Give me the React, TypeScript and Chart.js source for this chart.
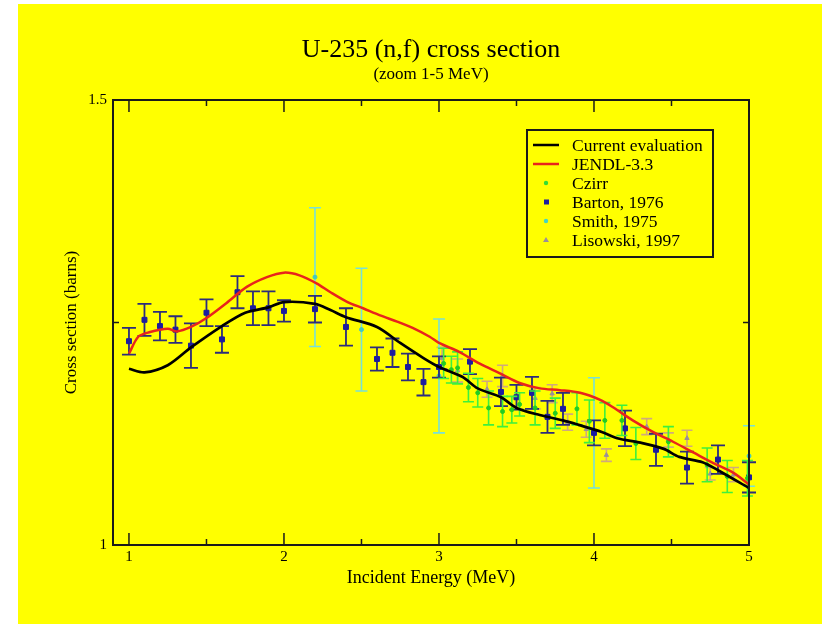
import React, { useEffect, useRef } from "react";
import { Chart, registerables } from "chart.js";

Chart.register(...registerables);

const FONT = "'Liberation Serif', 'Times New Roman', 'DejaVu Serif', serif";

// Current evaluation (black line)
const curX = [1.0, 1.1, 1.25, 1.4, 1.6, 1.75, 1.9, 2.0, 2.2, 2.3, 2.4, 2.6, 2.75, 2.9, 3.0, 3.15, 3.25, 3.4, 3.5, 3.65, 3.8, 3.9, 4.05, 4.15, 4.3, 4.45, 4.55, 4.7, 4.8, 5.0];
const curY = [1.198, 1.194, 1.202, 1.222, 1.246, 1.261, 1.267, 1.273, 1.271, 1.264, 1.256, 1.245, 1.227, 1.21, 1.2, 1.189, 1.176, 1.166, 1.154, 1.146, 1.14, 1.135, 1.127, 1.12, 1.115, 1.108, 1.099, 1.093, 1.084, 1.064];

// JENDL-3.3 (red line)
const jenX = [1.0, 1.06, 1.13, 1.25, 1.31, 1.4, 1.5, 1.63, 1.76, 1.89, 2.0, 2.1, 2.21, 2.3, 2.41, 2.51, 2.62, 2.73, 2.83, 2.94, 3.0, 3.13, 3.26, 3.39, 3.52, 3.65, 3.78, 3.91, 4.04, 4.12, 4.25, 4.38, 4.51, 4.64, 4.77, 4.9, 5.0];
const jenY = [1.215, 1.234, 1.239, 1.243, 1.24, 1.245, 1.255, 1.272, 1.29, 1.301, 1.306, 1.303, 1.294, 1.284, 1.273, 1.266, 1.258, 1.251, 1.244, 1.234, 1.227, 1.217, 1.204, 1.193, 1.182, 1.176, 1.174, 1.171, 1.163, 1.155, 1.14, 1.127, 1.116, 1.104, 1.092, 1.081, 1.068];

// Czirr (green)
const czX = [3.03, 3.08, 3.12, 3.19, 3.25, 3.32, 3.41, 3.47, 3.52, 3.62, 3.75, 3.89, 3.97, 4.07, 4.18, 4.27, 4.48, 4.73, 4.86, 4.99];
const czY = [1.204, 1.197, 1.199, 1.177, 1.171, 1.154, 1.15, 1.152, 1.158, 1.154, 1.148, 1.153, 1.139, 1.14, 1.14, 1.114, 1.116, 1.09, 1.077, 1.075];
const czE = [0.017, 0.015, 0.018, 0.016, 0.016, 0.019, 0.017, 0.015, 0.013, 0.019, 0.017, 0.018, 0.024, 0.02, 0.017, 0.018, 0.017, 0.019, 0.018, 0.02];

// Barton, 1976 (blue)
const baX = [1.0, 1.1, 1.2, 1.3, 1.4, 1.5, 1.6, 1.7, 1.8, 1.9, 2.0, 2.2, 2.4, 2.6, 2.7, 2.8, 2.9, 3.0, 3.2, 3.4, 3.5, 3.6, 3.7, 3.8, 4.0, 4.2, 4.4, 4.6, 4.8, 5.0];
const baY = [1.229, 1.253, 1.246, 1.242, 1.224, 1.261, 1.231, 1.284, 1.266, 1.266, 1.263, 1.265, 1.245, 1.209, 1.216, 1.2, 1.183, 1.2, 1.206, 1.172, 1.166, 1.171, 1.144, 1.153, 1.126, 1.131, 1.107, 1.087, 1.096, 1.076];
const baE = [0.015, 0.018, 0.016, 0.015, 0.025, 0.015, 0.015, 0.018, 0.019, 0.019, 0.012, 0.015, 0.021, 0.013, 0.016, 0.015, 0.015, 0.012, 0.014, 0.016, 0.014, 0.018, 0.018, 0.018, 0.014, 0.02, 0.018, 0.018, 0.016, 0.017];

// Smith, 1975 (cyan)
const smX = [2.2, 2.5, 3.0, 4.0, 5.0];
const smY = [1.301, 1.242, 1.19, 1.126, 1.1];
const smE = [0.078, 0.069, 0.064, 0.062, 0.034];

// Lisowski, 1997 (tan)
const liX = [3.02, 3.12, 3.31, 3.41, 3.62, 3.73, 3.83, 3.95, 4.08, 4.34, 4.48, 4.6, 4.75, 4.9];
const liY = [1.21, 1.196, 1.175, 1.19, 1.165, 1.17, 1.138, 1.13, 1.101, 1.133, 1.118, 1.12, 1.08, 1.079];
const liE = [0.012, 0.013, 0.009, 0.012, 0.012, 0.01, 0.009, 0.009, 0.007, 0.009, 0.008, 0.009, 0.007, 0.008];

const xTicks = [1, 1.5, 2, 2.5, 3, 3.5, 4, 4.5, 5];
const yTicks = [1, 1.25, 1.5];
const yLabels = ["1", "", "1.5"];

const titleText = "U-235 (n,f) cross section";
const subtitleText = "(zoom 1-5 MeV)";
const xTitle = "Incident Energy (MeV)";
const yTitle = "Cross section (barns)";

const legendItems = [
  { label: "Current evaluation", kind: "line", color: "#000000" },
  { label: "JENDL-3.3", kind: "line", color: "#e8241c" },
  { label: "Czirr", kind: "circle", color: "#33dd33" },
  { label: "Barton, 1976", kind: "rect", color: "#1c1ca0" },
  { label: "Smith, 1975", kind: "circle", color: "#44d4c4" },
  { label: "Lisowski, 1997", kind: "triangle", color: "#9a909a" },
];

const pts = (xs: number[], ys: number[]) => xs.map((x, i) => ({ x, y: ys[i] }));

const errorBarPlugin = {
  id: "errbars",
  beforeDatasetDraw(chart: any, args: any) {
    const ds = chart.data.datasets[args.index];
    if (!ds.errors) return;
    const ys = chart.scales.y;
    const ctx = chart.ctx;
    ctx.save();
    ctx.strokeStyle = ds.errColor;
    ctx.lineWidth = ds.errWidth || 1.5;
    const cap = ds.capHalf || 5;
    args.meta.data.forEach((el: any, i: number) => {
      const v = ds.data[i].y;
      const e = ds.errors[i];
      const x = el.x;
      const y1 = ys.getPixelForValue(v - e);
      const y2 = ys.getPixelForValue(v + e);
      ctx.beginPath();
      ctx.moveTo(x, y1);
      ctx.lineTo(x, y2);
      ctx.moveTo(x - cap, y1);
      ctx.lineTo(x + cap, y1);
      ctx.moveTo(x - cap, y2);
      ctx.lineTo(x + cap, y2);
      ctx.stroke();
    });
    ctx.restore();
  },
};

const framePlugin = {
  id: "frame",
  afterDatasetsDraw(chart: any) {
    const { ctx, chartArea: a, scales } = chart;
    ctx.save();
    ctx.strokeStyle = "#1a1a1a";
    ctx.lineWidth = 2;
    ctx.strokeRect(a.left, a.top, a.right - a.left, a.bottom - a.top);
    ctx.lineWidth = 1.5;
    ctx.beginPath();
    xTicks.forEach((v) => {
      const x = scales.x.getPixelForValue(v);
      const len = Number.isInteger(v) ? 12 : 6;
      ctx.moveTo(x, a.bottom);
      ctx.lineTo(x, a.bottom - len);
      ctx.moveTo(x, a.top);
      ctx.lineTo(x, a.top + len);
    });
    yTicks.forEach((v) => {
      const y = scales.y.getPixelForValue(v);
      const len = v === 1.25 ? 6 : 12;
      ctx.moveTo(a.left, y);
      ctx.lineTo(a.left + len, y);
      ctx.moveTo(a.right, y);
      ctx.lineTo(a.right - len, y);
    });
    ctx.stroke();
    ctx.restore();
  },
};

const decorPlugin = {
  id: "decor",
  afterDraw(chart: any) {
    const { ctx, chartArea: a } = chart;
    ctx.save();
    const cx = (a.left + a.right) / 2;
    ctx.fillStyle = "#000";
    ctx.textAlign = "center";
    ctx.textBaseline = "middle";
    ctx.font = `26px ${FONT}`;
    ctx.fillText(titleText, cx, 46);
    ctx.font = `17px ${FONT}`;
    ctx.fillText(subtitleText, cx, 71);

    // legend
    const bx = 509, by = 126, bw = 186, bh = 127;
    ctx.fillStyle = "#ffff00";
    ctx.fillRect(bx, by, bw, bh);
    ctx.strokeStyle = "#1a1a1a";
    ctx.lineWidth = 2;
    ctx.strokeRect(bx, by, bw, bh);
    ctx.font = `17.5px ${FONT}`;
    ctx.textAlign = "left";
    legendItems.forEach((it, i) => {
      const y = 141 + i * 19;
      if (it.kind === "line") {
        ctx.strokeStyle = it.color;
        ctx.lineWidth = 2.5;
        ctx.beginPath();
        ctx.moveTo(515, y);
        ctx.lineTo(541, y);
        ctx.stroke();
      } else if (it.kind === "circle") {
        ctx.fillStyle = it.color;
        ctx.beginPath();
        ctx.arc(528, y, 2.2, 0, Math.PI * 2);
        ctx.fill();
      } else if (it.kind === "rect") {
        ctx.fillStyle = it.color;
        ctx.fillRect(526, y - 2.5, 5, 5);
      } else {
        ctx.fillStyle = it.color;
        ctx.beginPath();
        ctx.moveTo(528, y - 3);
        ctx.lineTo(531, y + 2);
        ctx.lineTo(525, y + 2);
        ctx.closePath();
        ctx.fill();
      }
      ctx.fillStyle = "#000";
      ctx.fillText(it.label, 554, y + 1);
    });
    ctx.restore();
  },
};

export default function App() {
  const ref = useRef<HTMLCanvasElement | null>(null);
  useEffect(() => {
    if (!ref.current) return;
    const chart = new Chart(ref.current, {
      type: "scatter",
      data: {
        datasets: [
          {
            label: "Current evaluation",
            data: pts(curX, curY),
            showLine: true,
            borderColor: "#000000",
            borderWidth: 2.7,
            pointRadius: 0,
            tension: 0.3,
          } as any,
          {
            label: "JENDL-3.3",
            data: pts(jenX, jenY),
            showLine: true,
            borderColor: "#e8241c",
            borderWidth: 2.5,
            pointRadius: 0,
            tension: 0.3,
          },
          {
            label: "Czirr",
            data: pts(czX, czY),
            errors: czE,
            errColor: "#3ef03e",
            errWidth: 1.6,
            capHalf: 5.5,
            backgroundColor: "#22cc22",
            borderColor: "#22cc22",
            pointRadius: 2,
            clip: false,
          },
          {
            label: "Barton, 1976",
            data: pts(baX, baY),
            errors: baE,
            errColor: "#2c2c7c",
            errWidth: 1.8,
            capHalf: 7,
            backgroundColor: "#1c1ca0",
            borderColor: "#1c1ca0",
            pointStyle: "rect",
            pointRadius: 3.5,
            clip: false,
          },
          {
            label: "Smith, 1975",
            data: pts(smX, smY),
            errors: smE,
            errColor: "#78e0d8",
            errWidth: 1.6,
            capHalf: 6,
            backgroundColor: "#44c8c0",
            borderColor: "#44c8c0",
            pointRadius: 2,
            clip: false,
          },
          {
            label: "Lisowski, 1997",
            data: pts(liX, liY),
            errors: liE,
            errColor: "#d0aa7c",
            errWidth: 1.6,
            capHalf: 5.5,
            backgroundColor: "#9a909a",
            borderColor: "#9a909a",
            pointStyle: "triangle",
            pointRadius: 2.5,
            clip: false,
          },
        ] as any,
      },
      options: {
        responsive: false,
        animation: false,
        devicePixelRatio: 1,
        layout: { padding: { top: 96, right: 73, bottom: 19, left: 0 } },
        plugins: {
          legend: { display: false },
          tooltip: { enabled: false },
          title: { display: false },
        },
        scales: {
          x: {
            type: "linear",
            min: 0.897,
            max: 5.0,
            afterBuildTicks: (s: any) => {
              s.ticks = xTicks.map((v) => ({ value: v }));
            },
            afterFit: (s: any) => {
              s.height = 60;
            },
            grid: { display: false },
            border: { display: false },
            ticks: {
              autoSkip: false,
              maxRotation: 0,
              padding: -5,
              color: "#000",
              font: { family: FONT, size: 15 },
              callback: (v: any) => (Number.isInteger(Number(v)) ? String(v) : ""),
            },
            title: {
              display: true,
              text: xTitle,
              color: "#000",
              font: { family: FONT, size: 18 },
              padding: { top: 0, bottom: 16 },
            },
          },
          y: {
            type: "linear",
            min: 1,
            max: 1.5,
            afterBuildTicks: (s: any) => {
              s.ticks = yTicks.map((v) => ({ value: v }));
            },
            afterFit: (s: any) => {
              s.width = 95;
            },
            grid: { display: false },
            border: { display: false },
            ticks: {
              autoSkip: false,
              padding: -2,
              color: "#000",
              font: { family: FONT, size: 15 },
              callback: (v: any) => {
                const i = yTicks.indexOf(Number(v));
                return i >= 0 ? yLabels[i] : "";
              },
            },
            title: {
              display: true,
              text: yTitle,
              color: "#000",
              font: { family: FONT, size: 17 },
              padding: { top: 43, bottom: 0 },
            },
          },
        },
      } as any,
      plugins: [errorBarPlugin, framePlugin, decorPlugin],
    });
    return () => chart.destroy();
  }, []);

  return (
    <div
      style={{
        position: "absolute",
        left: 18,
        top: 4,
        width: 804,
        height: 620,
        background: "#ffff00",
      }}
    >
      <canvas ref={ref} width={804} height={620} style={{ display: "block" }} />
    </div>
  );
}
